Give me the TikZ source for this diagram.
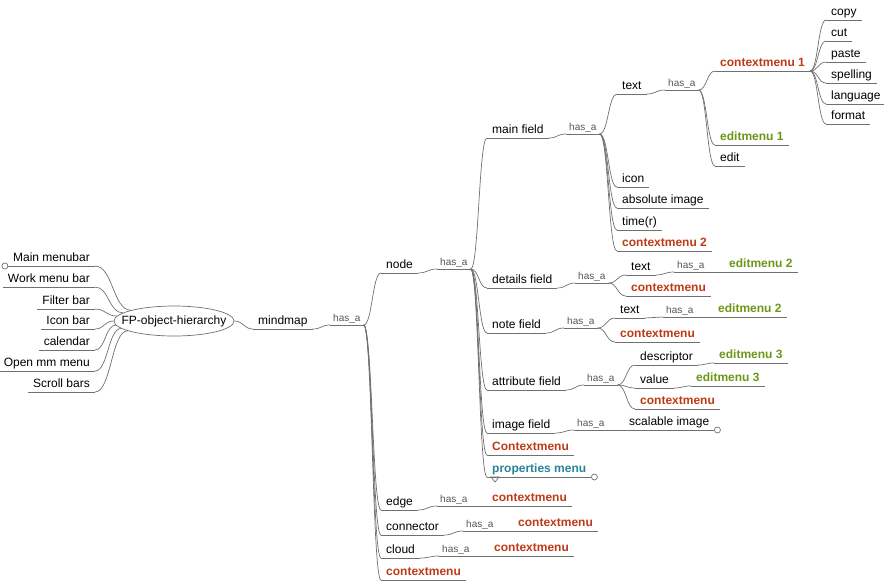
\documentclass[tikz,border=0pt]{standalone}
\usepackage{fontspec}
\setmainfont{Liberation Sans}
\usepackage{tikz}
\usetikzlibrary{calc,shapes}
\usepackage{xcolor}
\definecolor{fpgray}{RGB}{112,112,112}
\definecolor{fphas}{RGB}{85,85,85}
\definecolor{fpred}{RGB}{190,58,22}
\definecolor{fpgreen}{RGB}{108,150,22}
\definecolor{fpteal}{RGB}{40,132,150}
\tikzstyle{conn} = [draw=fpgray, line width=0.7pt]
\tikzstyle{item} = [anchor=south west, font=\fontsize{12}{14}\selectfont, text height=9pt, text depth=3pt, inner xsep=5pt, inner ysep=1pt, append after command={(\tikzlastnode.south west) edge[conn] (\tikzlastnode.south east)}]
\tikzstyle{leftitem} = [item, anchor=south east]
\tikzstyle{hasa} = [item, font=\fontsize{10}{12}\selectfont, text=fphas, text height=7pt, text depth=2pt, inner xsep=3pt]
\tikzstyle{ctx} = [item, font=\fontsize{12}{14}\selectfont\bfseries, text=fpred]
\tikzstyle{edm} = [ctx, text=fpgreen]
\tikzstyle{prop} = [ctx, text=fpteal]
\tikzstyle{root} = [ellipse, draw=fpgray, line width=0.7pt, minimum width=120pt, minimum height=30pt, inner xsep=-10pt, inner ysep=0pt, font=\fontsize{12}{14}\selectfont]
% s-shaped connector between two anchors
\newcommand{\link}[2]{\draw[conn] let \p1=(#1), \p2=(#2) in (\p1) .. controls (\x1/2+\x2/2,\y1) and (\x1/2+\x2/2,\y2) .. (\p2);}

\begin{document}
\begin{tikzpicture}[x=1pt, y=-1pt]
    \useasboundingbox (0,0) rectangle (884,582);

    % Root
    \node[root] (root) at (174,321) {FP-object-hierarchy};

    % Left side
    \node[leftitem] (mainmenubar) at (95,266) {Main menubar};
    \node[leftitem] (workmenubar) at (95,287) {Work menu bar};
    \node[leftitem] (filterbar) at (95,309) {Filter bar};
    \node[leftitem] (iconbar) at (95,329) {Icon bar};
    \node[leftitem] (calendar) at (95,350) {calendar};
    \node[leftitem] (openmm) at (95,371) {Open mm menu};
    \node[leftitem] (scrollbars) at (95,392) {Scroll bars};
    \draw[conn, fill=white] (mainmenubar.south west) ++(-3pt,0) circle[radius=3pt];
    \link{mainmenubar.south east}{root.166}
    \link{workmenubar.south east}{root.171}
    \link{filterbar.south east}{root.175}
    \link{iconbar.south east}{root.180}
    \link{calendar.south east}{root.184}
    \link{openmm.south east}{root.188}
    \link{scrollbars.south east}{root.192}

    % Mindmap
    \node[item] (mindmap) at (253,329) {mindmap};
    \node[hasa] (hasmm) at (330,325) {has\_a};
    \node[item] (node) at (381,273) {node};
    \node[item] (edge) at (381,510) {edge};
    \node[item] (connector) at (381,535) {connector};
    \node[item] (cloud) at (381,558) {cloud};
    \node[ctx] (ctxmap) at (381,580) {contextmenu};
    \link{root.east}{mindmap.south west}
    \link{mindmap.south east}{hasmm.south west}
    \link{hasmm.south east}{node.south west}
    \link{hasmm.south east}{edge.south west}
    \link{hasmm.south east}{connector.south west}
    \link{hasmm.south east}{cloud.south west}
    \link{hasmm.south east}{ctxmap.south west}

    % Node
    \node[hasa] (hasnode) at (437,269) {has\_a};
    \node[item] (mainfield) at (487,138) {main field};
    \node[item] (detailsfield) at (487,288) {details field};
    \node[item] (notefield) at (487,333) {note field};
    \node[item] (attrfield) at (487,390) {attribute field};
    \node[item] (imagefield) at (487,433) {image field};
    \node[ctx] (ctxnode) at (487,455) {Contextmenu};
    \node[prop] (propmenu) at (487,477) {properties menu};
    \draw[conn, fill=white] (propmenu.south east) ++(3pt,0) circle[radius=3pt];
    \draw[conn] (propmenu.south west) ++(4pt,0) -- ++(8pt,0) -- ++(-4pt,-5pt) -- cycle;
    \link{node.south east}{hasnode.south west}
    \link{hasnode.south east}{mainfield.south west}
    \link{hasnode.south east}{detailsfield.south west}
    \link{hasnode.south east}{notefield.south west}
    \link{hasnode.south east}{attrfield.south west}
    \link{hasnode.south east}{imagefield.south west}
    \link{hasnode.south east}{ctxnode.south west}
    \link{hasnode.south east}{propmenu.south west}

    % Main field
    \node[hasa] (hasmain) at (566,134) {has\_a};
    \node[item] (maintext) at (617,94) {text};
    \node[item] (icon) at (617,187) {icon};
    \node[item] (absimage) at (617,208) {absolute image};
    \node[item] (timer) at (617,230) {time(r)};
    \node[ctx] (ctxmain) at (617,251) {contextmenu 2};
    \link{mainfield.south east}{hasmain.south west}
    \link{hasmain.south east}{maintext.south west}
    \link{hasmain.south east}{icon.south west}
    \link{hasmain.south east}{absimage.south west}
    \link{hasmain.south east}{timer.south west}
    \link{hasmain.south east}{ctxmain.south west}

    % Main text
    \node[hasa] (hastext) at (665,90) {has\_a};
    \node[ctx] (ctxtext) at (715,71) {contextmenu 1};
    \node[edm] (edmtext) at (715,145) {editmenu 1};
    \node[item] (edit) at (715,166) {edit};
    \node[item] (copy) at (826,20) {copy};
    \node[item] (cut) at (826,41) {cut};
    \node[item] (paste) at (826,62) {paste};
    \node[item] (spelling) at (826,83) {spelling};
    \node[item] (language) at (826,104) {language};
    \node[item] (format) at (826,124) {format};
    \link{maintext.south east}{hastext.south west}
    \link{hastext.south east}{ctxtext.south west}
    \link{hastext.south east}{edmtext.south west}
    \link{hastext.south east}{edit.south west}
    \link{ctxtext.south east}{copy.south west}
    \link{ctxtext.south east}{cut.south west}
    \link{ctxtext.south east}{paste.south west}
    \link{ctxtext.south east}{spelling.south west}
    \link{ctxtext.south east}{language.south west}
    \link{ctxtext.south east}{format.south west}

    % Details field
    \node[hasa] (hasdetails) at (575,283) {has\_a};
    \node[item] (detailstext) at (626,275) {text};
    \node[hasa] (hasdetailstext) at (674,272) {has\_a};
    \node[edm] (edmdetails) at (724,272) {editmenu 2};
    \node[ctx] (ctxdetails) at (626,296) {contextmenu};
    \link{detailsfield.south east}{hasdetails.south west}
    \link{hasdetails.south east}{detailstext.south west}
    \link{hasdetails.south east}{ctxdetails.south west}
    \link{detailstext.south east}{hasdetailstext.south west}
    \link{hasdetailstext.south east}{edmdetails.south west}

    % Note field
    \node[hasa] (hasnote) at (564,328) {has\_a};
    \node[item] (notetext) at (615,318) {text};
    \node[hasa] (hasnotetext) at (663,317) {has\_a};
    \node[edm] (edmnote) at (713,317) {editmenu 2};
    \node[ctx] (ctxnote) at (615,342) {contextmenu};
    \link{notefield.south east}{hasnote.south west}
    \link{hasnote.south east}{notetext.south west}
    \link{hasnote.south east}{ctxnote.south west}
    \link{notetext.south east}{hasnotetext.south west}
    \link{hasnotetext.south east}{edmnote.south west}

    % Attribute field
    \node[hasa] (hasattr) at (584,385) {has\_a};
    \node[item] (descriptor) at (635,365) {descriptor};
    \node[edm] (edmdescr) at (714,363) {editmenu 3};
    \node[item] (value) at (635,388) {value};
    \node[edm] (edmvalue) at (691,386) {editmenu 3};
    \node[ctx] (ctxattr) at (635,409) {contextmenu};
    \link{attrfield.south east}{hasattr.south west}
    \link{hasattr.south east}{descriptor.south west}
    \link{hasattr.south east}{value.south west}
    \link{hasattr.south east}{ctxattr.south west}
    \link{descriptor.south east}{edmdescr.south west}
    \link{value.south east}{edmvalue.south west}

    % Image field
    \node[hasa] (hasimage) at (574,430) {has\_a};
    \node[item] (scalimage) at (624,430) {scalable image};
    \draw[conn, fill=white] (scalimage.south east) ++(3pt,0) circle[radius=3pt];
    \link{imagefield.south east}{hasimage.south west}
    \link{hasimage.south east}{scalimage.south west}

    % Edge, connector, cloud
    \node[hasa] (hasedge) at (437,506) {has\_a};
    \node[ctx] (ctxedge) at (487,506) {contextmenu};
    \node[hasa] (hasconn) at (463,531) {has\_a};
    \node[ctx] (ctxconn) at (513,531) {contextmenu};
    \node[hasa] (hascloud) at (439,556) {has\_a};
    \node[ctx] (ctxcloud) at (489,556) {contextmenu};
    \link{edge.south east}{hasedge.south west}
    \link{hasedge.south east}{ctxedge.south west}
    \link{connector.south east}{hasconn.south west}
    \link{hasconn.south east}{ctxconn.south west}
    \link{cloud.south east}{hascloud.south west}
    \link{hascloud.south east}{ctxcloud.south west}
\end{tikzpicture}
\end{document}
